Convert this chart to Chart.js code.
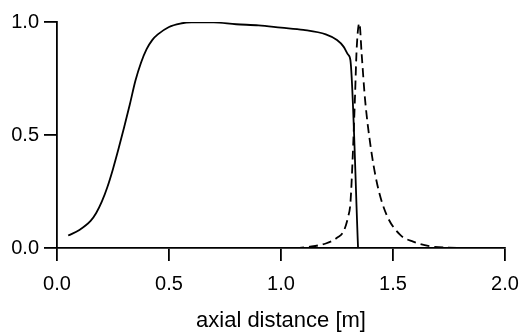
<!DOCTYPE html>
<html>
<head>
<meta charset="utf-8">
<script src="https://cdn.jsdelivr.net/npm/chart.js@4/dist/chart.umd.min.js"></script>
<style>
html,body{margin:0;padding:0;background:#fff;}
#wrap{width:521px;height:334px;position:relative;}
</style>
</head>
<body>
<div id="wrap"><canvas id="c" width="521" height="334"></canvas></div>
<script>
const xAxisTitle = "axial distance [m]";
const xTicks = [0.0, 0.5, 1.0, 1.5, 2.0];
const yTicks = [0.0, 0.5, 1.0];

const solidX = [0.05,0.10,0.15,0.175,0.20,0.225,0.25,0.275,0.30,0.325,0.35,0.375,0.40,0.425,0.45,0.50,0.55,0.60,0.70,0.80,0.90,1.00,1.10,1.20,1.25,1.28,1.30,1.31,1.344];
const solidY = [0.055,0.08,0.12,0.155,0.205,0.27,0.35,0.44,0.535,0.635,0.74,0.82,0.88,0.92,0.945,0.978,0.993,0.999,0.998,0.99,0.985,0.975,0.965,0.945,0.92,0.89,0.855,0.83,0.0];

const dashedX = [0.0,1.05,1.13,1.20,1.25,1.28,1.30,1.31,1.32,1.33,1.338,1.35,1.36,1.375,1.40,1.43,1.47,1.53,1.59,1.665,1.75,1.9,2.0];
const dashedY = [0.0,0.0,0.006,0.02,0.045,0.075,0.14,0.2,0.4,0.66,0.885,0.995,0.86,0.66,0.45,0.28,0.15,0.06,0.028,0.008,0.002,0.0,0.0];

const toPts = (xs, ys) => xs.map((x, i) => ({x: x, y: ys[i]}));
const fam = "'Liberation Sans', Arial, Helvetica, sans-serif";

new Chart(document.getElementById('c'), {
  type: 'line',
  data: {
    datasets: [
      {data: toPts(solidX, solidY), borderColor: '#000', borderWidth: 1.8, pointRadius: 0, fill: false, cubicInterpolationMode: 'monotone'},
      {data: toPts(dashedX, dashedY), borderColor: '#000', borderWidth: 1.8, borderDash: [9,5], pointRadius: 0, fill: false, cubicInterpolationMode: 'monotone'}
    ]
  },
  options: {
    responsive: false,
    animation: false,
    devicePixelRatio: 1,
    layout: {padding: {left: 0, right: 16, top: 22, bottom: 0}},
    plugins: {legend: {display: false}, tooltip: {enabled: false}},
    scales: {
      x: {
        type: 'linear', min: 0, max: 2,
        afterBuildTicks: s => { s.ticks = xTicks.map(v => ({value: v})); },
        afterFit: s => { s.height = 86; s.paddingLeft = 0; s.paddingRight = 0; },
        border: {display: true, color: '#000', width: 1.8},
        grid: {display: true, drawOnChartArea: false, drawTicks: true, tickLength: 13, color: '#000', lineWidth: 1.8},
        ticks: {color: '#000', font: {family: fam, size: 20}, padding: 11, maxRotation: 0, callback: v => v.toFixed(1)},
        title: {display: true, text: xAxisTitle, color: '#000', font: {family: fam, size: 22}, padding: {top: 10, bottom: 0}}
      },
      y: {
        type: 'linear', min: 0, max: 1,
        afterBuildTicks: s => { s.ticks = yTicks.map(v => ({value: v})); },
        afterFit: s => { s.width = 57; s.paddingTop = 0; s.paddingBottom = 0; },
        border: {display: true, color: '#000', width: 1.8},
        grid: {display: true, drawOnChartArea: false, drawTicks: true, tickLength: 13, color: '#000', lineWidth: 1.8},
        ticks: {color: '#000', font: {family: fam, size: 20}, padding: 5, callback: v => v.toFixed(1)}
      }
    }
  }
});
</script>
</body>
</html>
